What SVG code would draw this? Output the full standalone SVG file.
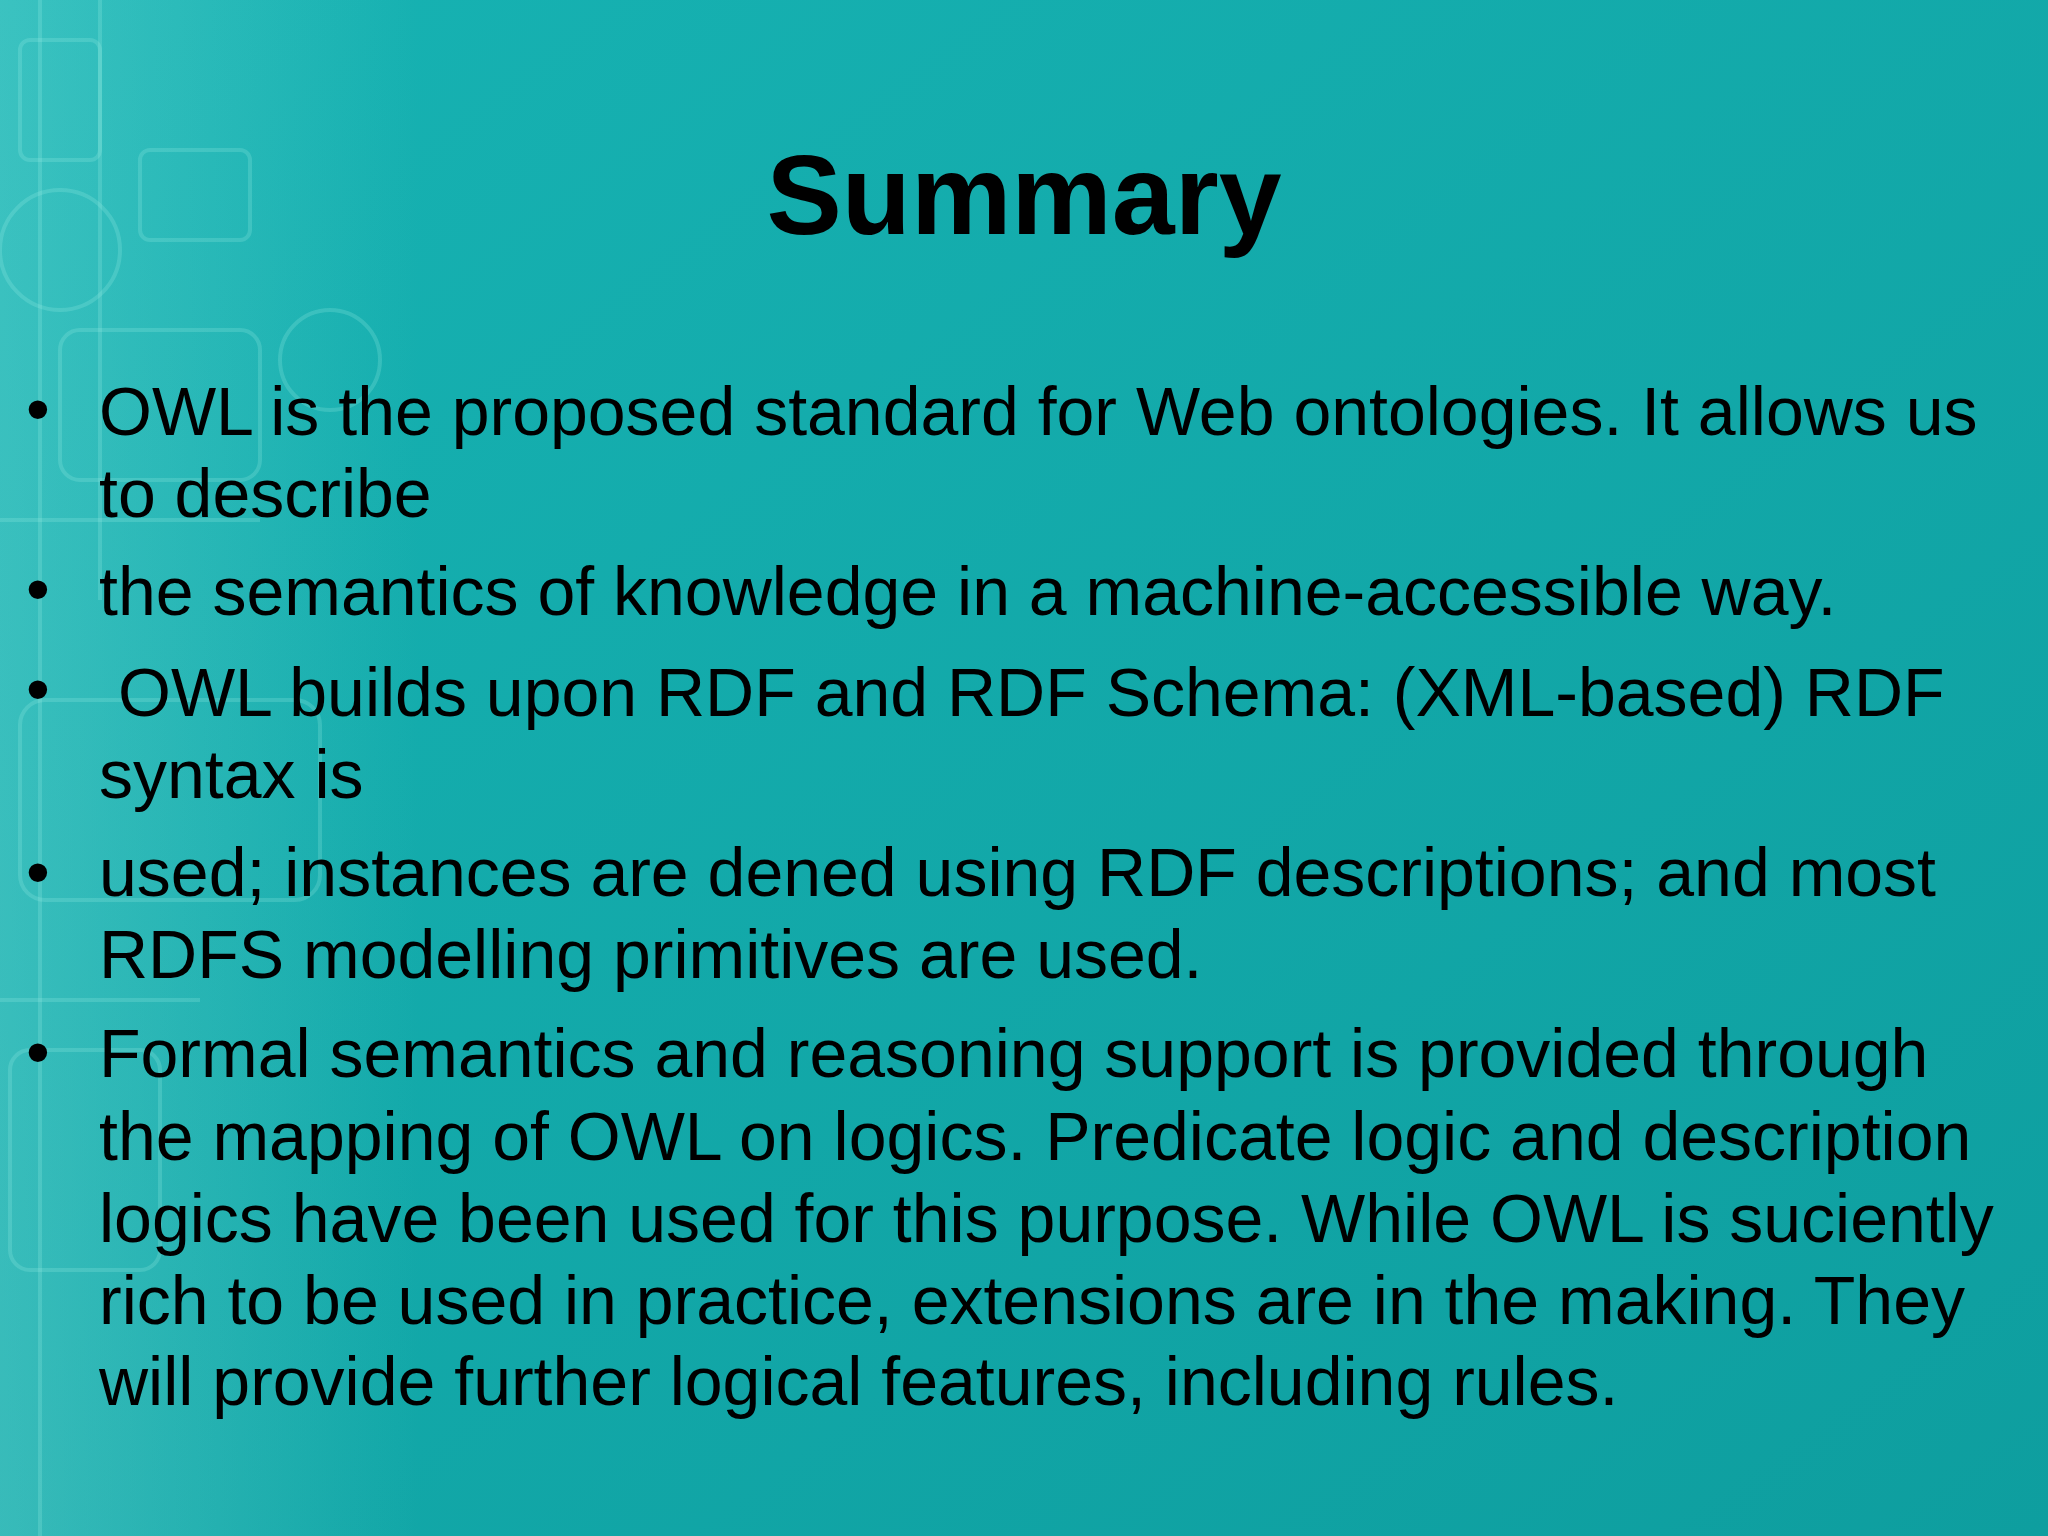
<svg xmlns="http://www.w3.org/2000/svg" width="2048" height="1536" viewBox="0 0 2048 1536">
<defs>
<linearGradient id="bg" x1="0" y1="0" x2="1" y2="1">
<stop offset="0" stop-color="#17b3b3"/><stop offset="1" stop-color="#0e9e9f"/>
</linearGradient>
<linearGradient id="fade" x1="0" y1="0" x2="1" y2="0">
<stop offset="0" stop-color="#8fe6e0" stop-opacity="0.3"/><stop offset="1" stop-color="#8fe6e0" stop-opacity="0"/>
</linearGradient>
<style>
.t{font-family:"Liberation Sans",Arial,sans-serif;font-size:68px;fill:#000}
.d{fill:none;stroke:#9ff0e8;stroke-opacity:0.22;stroke-width:4}
</style>
</defs>
<rect width="2048" height="1536" fill="url(#bg)"/>
<rect width="420" height="1536" fill="url(#fade)"/>
<g class="d">
<rect x="20" y="40" width="80" height="120" rx="10"/><rect x="140" y="150" width="110" height="90" rx="10"/>
<circle cx="60" cy="250" r="60"/><rect x="60" y="330" width="200" height="150" rx="20"/>
<rect x="20" y="700" width="300" height="200" rx="25"/><rect x="10" y="1050" width="150" height="220" rx="20"/>
<line x1="40" y1="0" x2="40" y2="1536"/><line x1="100" y1="0" x2="100" y2="600"/><line x1="0" y1="520" x2="260" y2="520"/>
<line x1="0" y1="1000" x2="200" y2="1000"/><circle cx="330" cy="360" r="50"/>
</g>
<g id="title"><text x="1024" y="234" text-anchor="middle" font-family="Liberation Sans,Arial,sans-serif" font-weight="bold" font-size="113" fill="#000">Summary</text></g>
<g id="bullets" class="t">
<text x="26" y="432">•</text><text x="26" y="612">•</text><text x="26" y="712">•</text><text x="26" y="895">•</text><text x="26" y="1075">•</text>
<text x="99" y="435">OWL is the proposed standard for Web ontologies. It allows us</text>
<text x="99" y="517">to describe</text>
<text x="99" y="615">the semantics of knowledge in a machine-accessible way.</text>
<text x="118" y="716">OWL builds upon RDF and RDF Schema: (XML-based) RDF</text>
<text x="99" y="798">syntax is</text>
<text x="99" y="896">used; instances are dened using RDF descriptions; and most</text>
<text x="99" y="978">RDFS modelling primitives are used.</text>
<text x="99" y="1077">Formal semantics and reasoning support is provided through</text>
<text x="99" y="1160">the mapping of OWL on logics. Predicate logic and description</text>
<text x="99" y="1242">logics have been used for this purpose. While OWL is suciently</text>
<text x="99" y="1324">rich to be used in practice, extensions are in the making. They</text>
<text x="99" y="1405">will provide further logical features, including rules.</text>
</g>
</svg>
